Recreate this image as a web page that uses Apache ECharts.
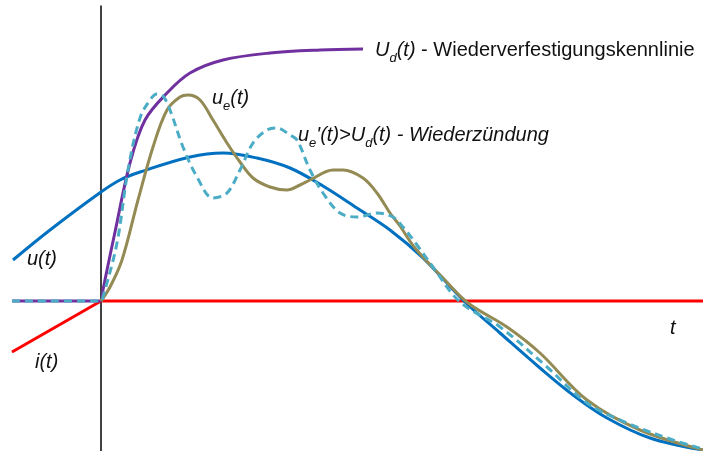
<!DOCTYPE html>
<html>
<head>
<meta charset="utf-8">
<script src="https://cdn.jsdelivr.net/npm/echarts@6/dist/echarts.min.js"></script>
<style>
  html, body { margin: 0; padding: 0; background: #fff; }
  #chart { width: 703px; height: 451px; }
</style>
</head>
<body>
<div id="chart"></div>
<script>
  // points are [t, value], t = 0 at the vertical axis, value = 0 on the red line
  const uSource = [[-88, 41], [-51, 71], [0, 109], [19, 121], [39, 129], [89, 144], [122, 148], [156, 143],
    [189, 133], [222, 115], [256, 93], [289, 71], [322, 43], [364, -1], [399, -32], [439, -67],
    [472, -94], [506, -117], [549, -137], [602, -149]]
  const udCurve = [[-89, 0], [0, 0], [2, 11], [6, 31], [14, 69], [29, 138], [44, 181], [66, 208],
    [89, 228], [122, 241], [169, 248], [219, 251], [262, 252]]
  const ueCurve = [[0, 0], [9, 14], [21, 41], [37, 101], [52, 154], [66, 191], [79, 204], [87, 206],
    [99, 201], [112, 181], [126, 158], [139, 139], [152, 123], [169, 114], [186, 111], [199, 116],
    [209, 121], [232, 131], [242, 131], [262, 123], [276, 108], [289, 88], [299, 75], [314, 53],
    [342, 23], [367, -2], [406, -26], [439, -52], [486, -99], [539, -129], [602, -149]]
  const ueRestrike = [[-89, 0], [0, 0], [2, 4], [16, 58], [27, 131], [39, 183], [49, 201], [56, 207],
    [62, 205], [69, 191], [82, 154], [96, 124], [112, 103], [126, 108], [139, 131], [152, 158],
    [166, 171], [176, 173], [189, 166], [196, 161], [209, 131], [222, 108], [239, 88], [256, 84],
    [276, 88], [292, 84], [302, 74], [316, 56], [332, 34], [359, -1], [399, -26], [446, -66],
    [486, -102], [526, -122], [572, -139], [602, -148]]
  const iCurrent = [[-89, -51], [0, 0], [602, 0]]

  const fontName = 'Liberation Sans, Arial, sans-serif'
  const sub = { fontSize: 13, fontStyle: 'italic', verticalAlign: 'bottom', lineHeight: 14, padding: [0, 0, -5, 0] }

  function curve (name, data, color, z, dashed) {
    return {
      name: name,
      type: 'line',
      data: data,
      smooth: 0.35,
      symbol: 'none',
      lineStyle: { color: color, width: 3, type: dashed ? [8, 5] : 'solid' },
      z: z
    }
  }

  let option = {
    animation: false,
    backgroundColor: '#fff',
    textStyle: { fontFamily: fontName, color: '#111' },
    grid: { left: 0, right: 0, top: 6, bottom: 0 },
    xAxis: {
      type: 'value',
      min: -101,
      max: 602,
      show: false
    },
    yAxis: {
      type: 'value',
      min: -150,
      max: 295,
      splitLine: { show: false },
      axisLabel: { show: false },
      axisTick: { show: false },
      axisLine: { show: true, onZero: true, lineStyle: { color: '#000', width: 1.5 } }
    },
    series: [
      {
        name: 'i(t)',
        type: 'line',
        data: iCurrent,
        symbol: 'none',
        lineStyle: { color: '#ff0000', width: 3 },
        z: 2
      },
      curve('u(t)', uSource, '#0070c0', 3),
      curve('Ud(t)', udCurve, '#7030a0', 3),
      curve('ue(t)', ueCurve, '#948a54', 4),
      curve("ue'(t)", ueRestrike, '#4bacc6', 5, true)
    ],
    graphic: [
      {
        type: 'text', left: 375, top: 40,
        style: {
          text: '{i|U}{s|d}{i|(t)} - Wiederverfestigungskennlinie',
          font: '20px ' + fontName, fill: '#111',
          rich: { i: { fontStyle: 'italic', fontSize: 20 }, s: sub }
        }
      },
      {
        type: 'text', left: 212, top: 88,
        style: {
          text: '{i|u}{s|e}{i|(t)}',
          font: 'italic 20px ' + fontName, fill: '#111',
          rich: { i: { fontStyle: 'italic', fontSize: 20 }, s: sub }
        }
      },
      {
        type: 'text', left: 298, top: 125,
        style: {
          text: "{i|u}{s|e}{i|'(t)>U}{s|d}{i|(t)} - Wiederzündung",
          font: 'italic 20px ' + fontName, fill: '#111',
          rich: { i: { fontStyle: 'italic', fontSize: 20 }, s: sub }
        }
      },
      {
        type: 'text', left: 27, top: 249,
        style: { text: 'u(t)', font: 'italic 20px ' + fontName, fill: '#111' }
      },
      {
        type: 'text', left: 35, top: 352,
        style: { text: 'i(t)', font: 'italic 20px ' + fontName, fill: '#111' }
      },
      {
        type: 'text', left: 670, top: 318,
        style: { text: 't', font: 'italic 20px ' + fontName, fill: '#111' }
      }
    ]
  }
  let myChart = echarts.init(document.getElementById('chart'))
  myChart.setOption(option)
</script>
</body>
</html>
